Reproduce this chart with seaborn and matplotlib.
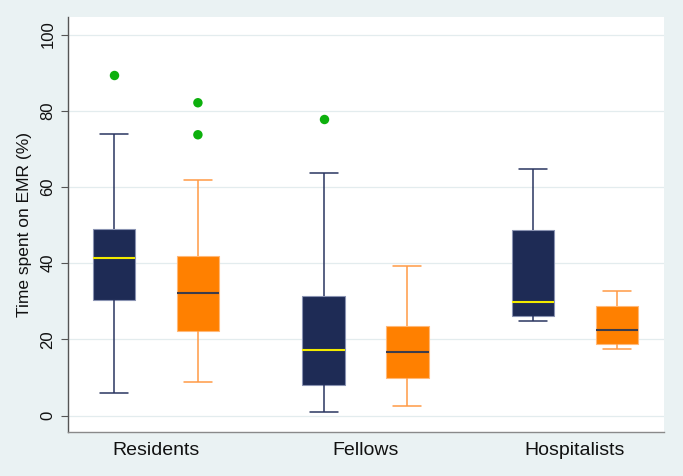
import numpy as np
import pandas as pd
import matplotlib
matplotlib.use("Agg")
import matplotlib.pyplot as plt
import seaborn as sns

# ---- data ----
roles = ["Residents", "Fellows", "Hospitalists"]
series = ["Group 1", "Group 2"]

# five-number summaries per role: [low whisker, Q1, median, Q3, high whisker]
navy_low = [5.9, 1.0, 24.7]
navy_q1 = [30.3, 8.0, 26.1]
navy_med = [41.3, 17.2, 29.8]
navy_q3 = [48.9, 31.5, 48.6]
navy_high = [73.9, 63.7, 64.6]

orange_low = [8.7, 2.5, 17.4]
orange_q1 = [22.2, 9.9, 18.9]
orange_med = [32.1, 16.8, 22.5]
orange_q3 = [41.8, 23.5, 28.8]
orange_high = [61.8, 39.2, 32.6]

# outside values
out_role = ["Residents", "Residents", "Residents", "Fellows"]
out_series = ["Group 1", "Group 2", "Group 2", "Group 1"]
out_value = [89.3, 82.1, 73.7, 77.8]

# ---- build tables ----
rows = []
for s, lo, q1, md, q3, hi in [
    (series[0], navy_low, navy_q1, navy_med, navy_q3, navy_high),
    (series[1], orange_low, orange_q1, orange_med, orange_q3, orange_high),
]:
    for i, r in enumerate(roles):
        for v in (lo[i], q1[i], md[i], q3[i], hi[i]):
            rows.append({"role": r, "series": s, "value": v})
df = pd.DataFrame(rows)
df_out = pd.DataFrame({"role": out_role, "series": out_series, "value": out_value})

# ---- style ----
bg = "#EAF2F3"
navy = "#1E2B55"
orange = "#FF8000"

sns.set_style("white")
plt.rcParams["font.family"] = ["Liberation Sans", "DejaVu Sans"]

fig = plt.figure(figsize=(6.83, 4.76), dpi=100, facecolor=bg)
ax = fig.add_axes([0.0996, 0.0924, 0.8726, 0.8719])
ax.set_facecolor("white")

for y in range(0, 101, 20):
    ax.axhline(y, color="#E3ECEE", lw=0.9, zorder=0)

specs = [
    (series[0], navy, "#8A93B2", "#2A3560", "#F2EA00"),
    (series[1], orange, "#FFB878", "#FF9A45", "#3C3C4C"),
]
for s, face, edge, wcol, mcol in specs:
    sub = df[df["series"] == s]
    n_p = len(ax.patches)
    sns.boxplot(
        data=sub, x="role", y="value", hue="series",
        order=roles, hue_order=series,
        palette={series[0]: navy, series[1]: orange},
        saturation=1, width=0.8, gap=0.493, dodge=True,
        whis=(0, 100), showfliers=False, linecolor=wcol, linewidth=1.1,
        medianprops={"color": mcol, "linewidth": 1.5},
        capwidths=0.134, legend=False, ax=ax, zorder=2,
    )
    for p in ax.patches[n_p:]:
        p.set_edgecolor(edge)
        p.set_linewidth(0.8)

sns.stripplot(
    data=df_out, x="role", y="value", hue="series",
    order=roles, hue_order=series,
    palette={series[0]: "#0DB00D", series[1]: "#0DB00D"},
    dodge=True, jitter=False, size=6.8, linewidth=0,
    legend=False, ax=ax, zorder=3,
)

ax.set_xlim(-0.42, 2.425)
ax.set_ylim(-4.3, 104.6)
ax.set_yticks([0, 20, 40, 60, 80, 100])
ax.set_xlabel("")
ax.set_ylabel("Time spent on EMR (%)", fontsize=12.5, color="#111111", labelpad=6)

for side in ["top", "right"]:
    ax.spines[side].set_visible(False)
ax.spines["left"].set_color("#555555")
ax.spines["left"].set_linewidth(1.0)
ax.spines["bottom"].set_color("#8A8A8A")
ax.spines["bottom"].set_linewidth(1.0)

ax.tick_params(axis="y", length=5, width=0.8, color="#555555", pad=4,
               labelsize=12, labelcolor="#111111", left=True)
for lab in ax.get_yticklabels():
    lab.set_rotation(90)
    lab.set_va("center")
ax.tick_params(axis="x", length=0, pad=7, labelsize=14, labelcolor="#111111")

fig.savefig("out.png", dpi=100, facecolor=bg)
